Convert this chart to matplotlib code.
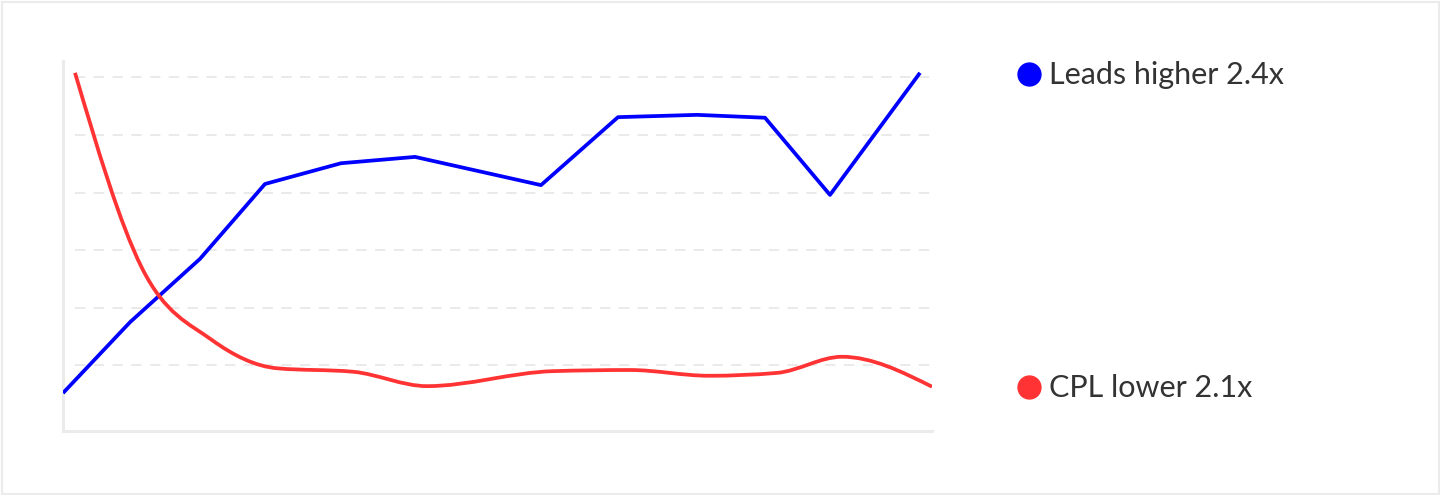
import numpy as np
import matplotlib
matplotlib.use("Agg")
import matplotlib.pyplot as plt
from matplotlib.path import Path
from matplotlib.patches import PathPatch, Rectangle
from matplotlib.lines import Line2D

# --- data ---
x_pos = [0, 67, 137, 202, 278, 352, 478, 555, 634, 702, 767, 857]
leads = [0.52, 1.75, 2.85, 4.15, 4.51, 4.62, 4.13, 5.31, 5.35, 5.30, 3.96, 6.08]
cpl = [6.08, 2.69, 1.44, 0.95, 0.89, 0.64, 0.90, 0.92, 0.82, 0.87, 1.15, 0.63]
legend_labels = ["Leads higher 2.4x", "CPL lower 2.1x"]

BLUE = "#0000ff"
RED = "#ff3333"
GRAY = "#ebebeb"
TEXT = "#333333"
RED_SHIFT = 12  # red series sits a little to the right


def monotone_path(x, y):
    # d3 curveMonotoneX as cubic bezier segments
    x = np.asarray(x, float)
    y = np.asarray(y, float)
    h = np.diff(x)
    s = np.diff(y) / h
    n = len(x)
    t = np.zeros(n)
    for i in range(1, n - 1):
        p = (s[i - 1] * h[i] + s[i] * h[i - 1]) / (h[i - 1] + h[i])
        t[i] = (np.sign(s[i - 1]) + np.sign(s[i])) * min(abs(s[i - 1]), abs(s[i]), 0.5 * abs(p))
    t[0] = (3 * s[0] - t[1]) / 2
    t[-1] = (3 * s[-1] - t[-2]) / 2
    verts = [(x[0], y[0])]
    codes = [Path.MOVETO]
    for i in range(n - 1):
        dx = h[i] / 3
        verts += [(x[i] + dx, y[i] + dx * t[i]),
                  (x[i + 1] - dx, y[i + 1] - dx * t[i + 1]),
                  (x[i + 1], y[i + 1])]
        codes += [Path.CURVE4] * 3
    return Path(verts, codes)


plt.rcParams["lines.scale_dashes"] = False
plt.rcParams["font.family"] = ["Lato", "DejaVu Sans"]

fig = plt.figure(figsize=(14.4, 4.95), dpi=100)
W, H = 1440, 495

# outer frame
fig.add_artist(Rectangle((1.5 / W, 1.5 / H), 1437 / W, 492 / H, transform=fig.transFigure,
                         fill=False, edgecolor=GRAY, linewidth=1.5))

ax = fig.add_axes([63 / W, (495 - 431) / H, (932 - 63) / W, (431 - 61) / H])
ax.set_xlim(0, 869)
ax.set_ylim(-0.139, 6.285)

# dashed grid
ax.hlines(range(1, 7), RED_SHIFT, 869, colors="#e6e6e6", linewidth=1.2,
          linestyles=[(0, (7.5, 6))], zorder=1)

ax.plot(x_pos, leads, color=BLUE, linewidth=2.7, solid_joinstyle="round",
        solid_capstyle="butt", zorder=3)

red_x = [v + RED_SHIFT for v in x_pos]
ax.add_patch(PathPatch(monotone_path(red_x, cpl), facecolor="none", edgecolor=RED,
                       linewidth=2.7, capstyle="butt", zorder=3))

for side in ["top", "right"]:
    ax.spines[side].set_visible(False)
for side in ["left", "bottom"]:
    ax.spines[side].set_color(GRAY)
    ax.spines[side].set_linewidth(2.2)
ax.set_xticks([])
ax.set_yticks([])

# legend on the right
for (yc, col, lab) in [(74, BLUE, legend_labels[0]), (387, RED, legend_labels[1])]:
    fig.add_artist(Line2D([1029 / W], [1 - yc / H], transform=fig.transFigure,
                          marker="o", markersize=16.5, color=col, linestyle="none"))
    fig.text(1049 / W, 1 - (yc + 1) / H, lab, fontsize=22, color=TEXT,
             va="center", ha="left")

fig.savefig("out.png", dpi=100)
